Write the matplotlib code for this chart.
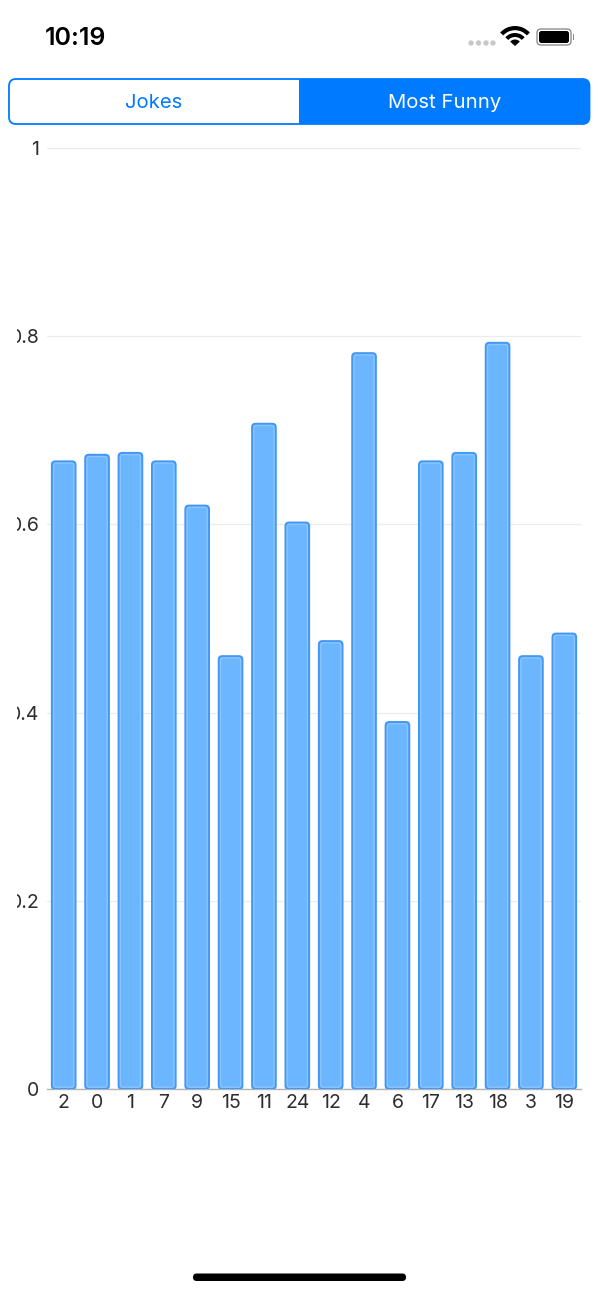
"""Most Funny jokes screen: bar chart of score per joke id, inside an iPhone screenshot."""

import matplotlib

matplotlib.use("Agg")
import matplotlib.pyplot as plt
from matplotlib.patches import Circle, FancyBboxPatch, Rectangle, Wedge
from matplotlib.transforms import Bbox

W, H = 598, 1294

JOKE_IDS = ["2", "0", "1", "7", "9", "15", "11", "24", "12", "4", "6", "17", "13", "18", "3", "19"]
SCORES = [0.667, 0.674, 0.676, 0.667, 0.620, 0.460, 0.707, 0.602,
          0.476, 0.782, 0.390, 0.667, 0.676, 0.793, 0.460, 0.484]
Y_TICKS = [0, 0.2, 0.4, 0.6, 0.8, 1]
Y_LABELS = ["0", "0.2", "0.4", "0.6", "0.8", "1"]
TABS = ["Jokes", "Most Funny"]
CLOCK = "10:19"

BLUE = "#007aff"
BAR_EDGE = "#4397f7"
BAR_FILL = "#6cb5ff"
BAR_INNER = "#8cc6ff"
INK = "#2e2e2e"
GRID = "#ececec"
BASELINE = "#b4b4b4"

plt.rcParams["font.family"] = ["Inter", "DejaVu Sans"]

fig = plt.figure(figsize=(W / 100, H / 100), dpi=100, facecolor="white")

# ---- chart ----
AX_L, AX_R, AX_T, AX_B = 47.0, 581.0, 148.0, 1089.0
ax = fig.add_axes([AX_L / W, 1 - AX_B / H, (AX_R - AX_L) / W, (AX_B - AX_T) / H])
ax.set_xlim(-0.5, len(SCORES) - 0.5)
ax.set_ylim(0, 1)
ax.patch.set_visible(False)

px_x = (AX_R - AX_L) / len(SCORES)  # pixels per x unit
px_y = AX_B - AX_T                  # pixels per y unit
aspect = px_x / px_y
BAR_W = 0.71

for i, v in enumerate(SCORES):
    ax.add_patch(FancyBboxPatch(
        (i - BAR_W / 2, 0), BAR_W, v,
        boxstyle=f"round,pad=0,rounding_size={3.5 / px_x}", mutation_aspect=aspect,
        facecolor=BAR_FILL, edgecolor=BAR_EDGE, linewidth=1.4, zorder=3))
    # lighter inner line of the double border
    inset_x, inset_y = 1.8 / px_x, 1.8 / px_y
    ax.add_patch(FancyBboxPatch(
        (i - BAR_W / 2 + inset_x, inset_y), BAR_W - 2 * inset_x, v - 2 * inset_y,
        boxstyle=f"round,pad=0,rounding_size={2.5 / px_x}", mutation_aspect=aspect,
        facecolor="none", edgecolor=BAR_INNER, linewidth=0.9, zorder=4))

ax.set_xticks(range(len(JOKE_IDS)), JOKE_IDS)
ax.set_yticks(Y_TICKS, Y_LABELS)
ax.tick_params(axis="both", length=0, labelsize=14, labelcolor=INK)
ax.tick_params(axis="x", pad=3.5)
ax.tick_params(axis="y", pad=5.5)
ax.grid(axis="y", color=GRID, linewidth=0.9, zorder=0)
ax.set_axisbelow(True)
for side in ("top", "right", "left"):
    ax.spines[side].set_visible(False)
ax.spines["bottom"].set_color(BASELINE)
ax.spines["bottom"].set_linewidth(1.0)

# the app cuts the y labels off at the left edge of the chart view
clip = Bbox.from_extents(17, 0, W, H)
for label in ax.get_yticklabels():
    label.set_clip_box(clip)
    label.set_clip_on(True)

# ---- phone chrome, drawn in pixel coordinates ----
ui = fig.add_axes([0, 0, 1, 1], zorder=5)
ui.set_xlim(0, W)
ui.set_ylim(H, 0)
ui.axis("off")
ui.patch.set_visible(False)

ui.text(76, 38.5, CLOCK, fontsize=18, fontweight="semibold", color="black",
        ha="center", va="center")

for x in (471, 478.5, 486, 493):
    ui.add_patch(Circle((x, 43), 2.7, color="#c8c8c8", lw=0))

for r, width in ((20, 4.2), (13, 4.0), (6.5, 6.5)):
    ui.add_patch(Wedge((515, 46), r, 222, 318, width=width, color="black", lw=0))

ui.add_patch(FancyBboxPatch((537, 29), 34, 16, boxstyle="round,pad=0,rounding_size=4",
                            facecolor="white", edgecolor="#8e8e8e", linewidth=1.0))
ui.add_patch(FancyBboxPatch((539, 31), 30, 12, boxstyle="round,pad=0,rounding_size=2.5",
                            facecolor="black", edgecolor="none"))
ui.add_patch(Rectangle((572.5, 34), 1.8, 6, color="#8e8e8e", lw=0))

# segmented control: selected half filled, clipped to the rounded outline
seg = FancyBboxPatch((9, 79), 580.5, 45, boxstyle="round,pad=0,rounding_size=7",
                     facecolor="white", edgecolor=BLUE, linewidth=1.3)
ui.add_patch(seg)
sel = Rectangle((299, 79), 291, 45, facecolor=BLUE, edgecolor="none")
ui.add_patch(sel)
sel.set_clip_path(seg)
ui.text(153.5, 103.5, TABS[0], fontsize=14.6, color=BLUE, ha="center", va="center")
ui.text(444.5, 103.5, TABS[1], fontsize=14.6, color="white", ha="center", va="center")

ui.add_patch(FancyBboxPatch((193, 1273.5), 213, 7.5, boxstyle="round,pad=0,rounding_size=3.7",
                            facecolor="black", edgecolor="none"))

fig.savefig("out.png", dpi=100)
